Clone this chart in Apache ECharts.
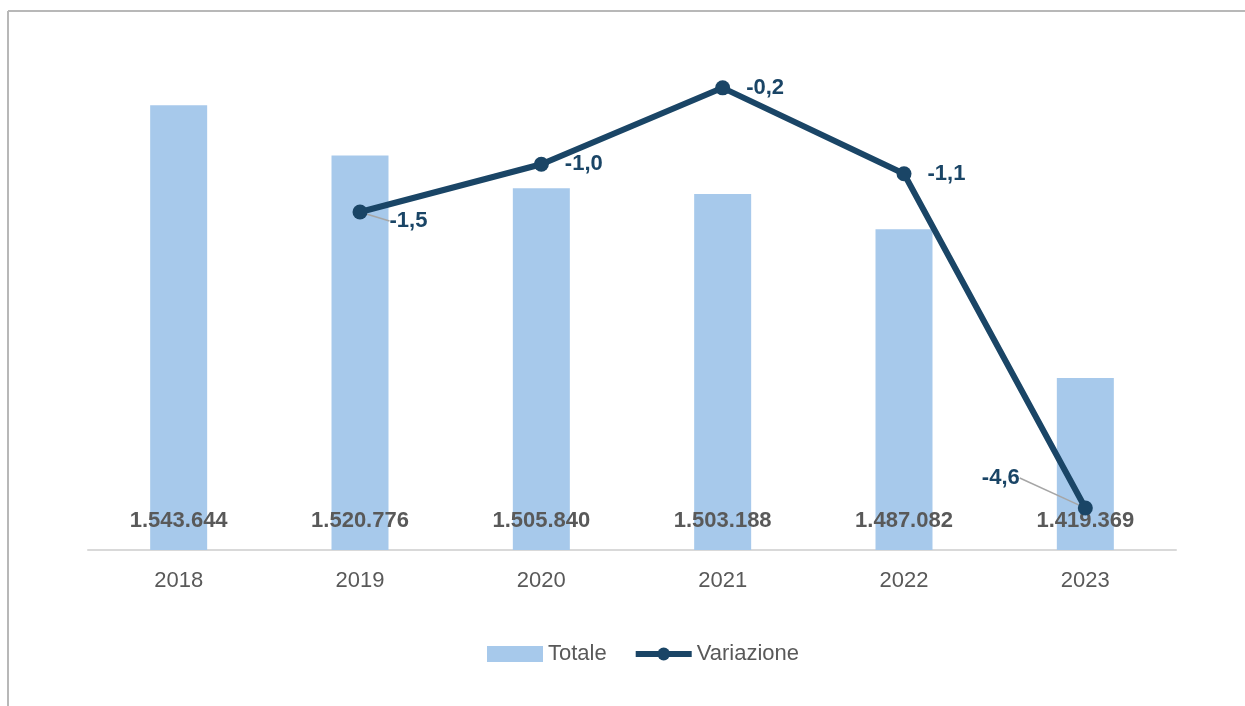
<!DOCTYPE html>
<html>
<head>
<meta charset="utf-8">
<script src="https://cdn.jsdelivr.net/npm/echarts@6/dist/echarts.min.js"></script>
<style>
  html, body { margin: 0; padding: 0; background: #fff; }
  #chart { width: 1245px; height: 706px; }
</style>
</head>
<body>
<div id="chart"></div>
<script>
const years = ["2018", "2019", "2020", "2021", "2022", "2023"];
const totale = [1543644, 1520776, 1505840, 1503188, 1487082, 1419369];
const variazione = ["-", -1.5, -1.0, -0.2, -1.1, -4.6];

const barColor = "#a7c9eb";
const lineColor = "#1a4566";
const textGray = "#595959";
const font = "'Liberation Sans', Arial, sans-serif";

// labels that were dragged away from their point, with a leader line
const movedLabels = { 1: { dx: 6, dy: 9 }, 5: { dx: -127, dy: -30 } };

const lineData = variazione.map((v, i) =>
  movedLabels[i] ? { value: v, labelLine: { show: true } } : v);

const chart = echarts.init(document.getElementById("chart"));

chart.setOption({
  animation: false,
  graphic: [
    { type: "line", shape: { x1: 8, y1: 11, x2: 1245, y2: 11 },
      style: { stroke: "#b8b8b8", lineWidth: 2 } },
    { type: "line", shape: { x1: 8, y1: 11, x2: 8, y2: 706 },
      style: { stroke: "#b8b8b8", lineWidth: 2 } }
  ],
  grid: { left: 88, right: 69, top: 21, bottom: 156 },
  legend: {
    bottom: 36,
    left: 482,
    itemWidth: 56,
    itemHeight: 16,
    itemGap: 26,
    textStyle: { color: textGray, fontSize: 22, fontFamily: font },
    data: [
      { name: "Totale", icon: "rect" },
      { name: "Variazione", lineStyle: { width: 6 } }
    ]
  },
  xAxis: {
    type: "category",
    data: years,
    axisLine: { onZero: false, lineStyle: { color: "#d9d9d9", width: 2 } },
    axisTick: { show: false },
    axisLabel: { color: textGray, fontSize: 22, fontFamily: font, margin: 20 }
  },
  yAxis: [
    { type: "value", min: 1341000, max: 1582000, show: false, splitLine: { show: false } },
    { type: "value", min: -5.04, max: 0.5, show: false, splitLine: { show: false } }
  ],
  series: [
    {
      name: "Totale",
      type: "bar",
      data: totale,
      barWidth: 57,
      itemStyle: { color: barColor },
      label: {
        show: true,
        position: "insideBottom",
        distance: 18,
        color: textGray,
        fontSize: 22,
        fontWeight: "bold",
        fontFamily: font,
        formatter: (p) => p.value.toLocaleString("de-DE")
      },
      z: 2
    },
    {
      name: "Variazione",
      type: "line",
      yAxisIndex: 1,
      data: lineData,
      symbol: "circle",
      symbolSize: 15,
      lineStyle: { color: lineColor, width: 6 },
      itemStyle: { color: lineColor },
      label: {
        show: true,
        position: "right",
        distance: 16,
        color: lineColor,
        fontSize: 22,
        fontWeight: "bold",
        fontFamily: font,
        formatter: (p) => p.value.toFixed(1).replace(".", ",")
      },
      labelLine: { show: false, lineStyle: { color: "#a6a6a6", width: 1.5 } },
      labelLayout: (params) => movedLabels[params.dataIndex] || {},
      z: 5
    }
  ]
});
</script>
</body>
</html>
